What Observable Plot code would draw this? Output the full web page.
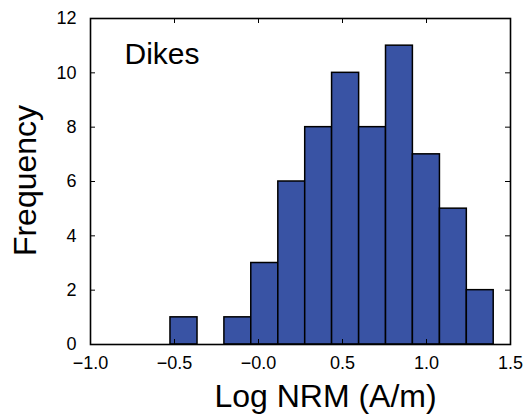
<!DOCTYPE html>
<html>
<head>
<meta charset="utf-8">
<script src="https://cdn.jsdelivr.net/npm/d3@7"></script>
<script src="https://cdn.jsdelivr.net/npm/@observablehq/plot@0.6"></script>
<style>
  html, body { margin: 0; padding: 0; background: #fff; }
  #chart svg { display: block; }
</style>
</head>
<body>
<div id="chart"></div>
<script>
// Histogram bin edges (Log NRM, A/m) and counts
const binEdges = [-0.524, -0.363, -0.203, -0.043, 0.118, 0.278, 0.438, 0.599, 0.759, 0.919, 1.080, 1.240, 1.400];
const counts   = [1, 0, 1, 3, 6, 8, 10, 8, 11, 7, 5, 2];

const xTicks = [-1.0, -0.5, 0.0, 0.5, 1.0, 1.5];
const xTickLabels = ["\u22121.0", "\u22120.5", "\u22120.0", "0.5", "1.0", "1.5"];
const yTicks = [0, 2, 4, 6, 8, 10, 12];
const yTickLabels = ["0", "2", "4", "6", "8", "10", "12"];

const xTitle = "Log NRM (A/m)";
const yTitle = "Frequency";
const panelLabel = "Dikes";

const bars = counts.map((c, i) => ({x1: binEdges[i], x2: binEdges[i + 1], y: c}));

const W = 528, H = 415;
const mL = 90, mR = 18, mT = 18, mB = 71;
const innerW = W - mL - mR, innerH = H - mT - mB;
const tickLen = 5;
const font = "'Liberation Sans', Arial, Helvetica, sans-serif";

const chart = Plot.plot({
  width: W,
  height: H,
  marginLeft: mL,
  marginRight: mR,
  marginTop: mT,
  marginBottom: mB,
  style: {fontFamily: font, background: "#fff", color: "#000"},
  x: {domain: [-1.0, 1.5]},
  y: {domain: [0, 12]},
  marks: [
    Plot.rectY(bars, {x1: "x1", x2: "x2", y: "y", fill: "#3953a4", stroke: "#000", strokeWidth: 1.5, inset: 0}),
    Plot.frame({stroke: "#000", strokeWidth: 1.6}),
    // inward ticks
    Plot.tickX(xTicks, {x: d => d, insetTop: innerH - tickLen, stroke: "#000", strokeWidth: 1}),
    Plot.tickX(xTicks, {x: d => d, insetBottom: innerH - tickLen, stroke: "#000", strokeWidth: 1}),
    Plot.tickY(yTicks, {y: d => d, insetRight: innerW - tickLen, stroke: "#000", strokeWidth: 1}),
    Plot.tickY(yTicks, {y: d => d, insetLeft: innerW - tickLen, stroke: "#000", strokeWidth: 1}),
    Plot.axisX(xTicks, {tickSize: 0, tickPadding: 12, fontSize: 18, label: null,
      tickFormat: (d, i) => xTickLabels[i]}),
    Plot.axisY(yTicks, {tickSize: 0, tickPadding: 14, fontSize: 18, label: null,
      tickFormat: (d, i) => yTickLabels[i]}),
    Plot.text([xTitle], {frameAnchor: "bottom", textAnchor: "middle", lineAnchor: "middle",
      dx: 25, dy: 52, fontSize: 32, text: d => d, fill: "#000"}),
    Plot.text([yTitle], {frameAnchor: "left", textAnchor: "middle", lineAnchor: "middle",
      dx: -65, dy: -1, rotate: -90, fontSize: 32, text: d => d, fill: "#000"}),
    Plot.text([panelLabel], {frameAnchor: "top-left", textAnchor: "start", lineAnchor: "middle",
      dx: 34, dy: 36, fontSize: 30, text: d => d, fill: "#000"})
  ]
});

document.getElementById("chart").appendChild(chart);
</script>
</body>
</html>
